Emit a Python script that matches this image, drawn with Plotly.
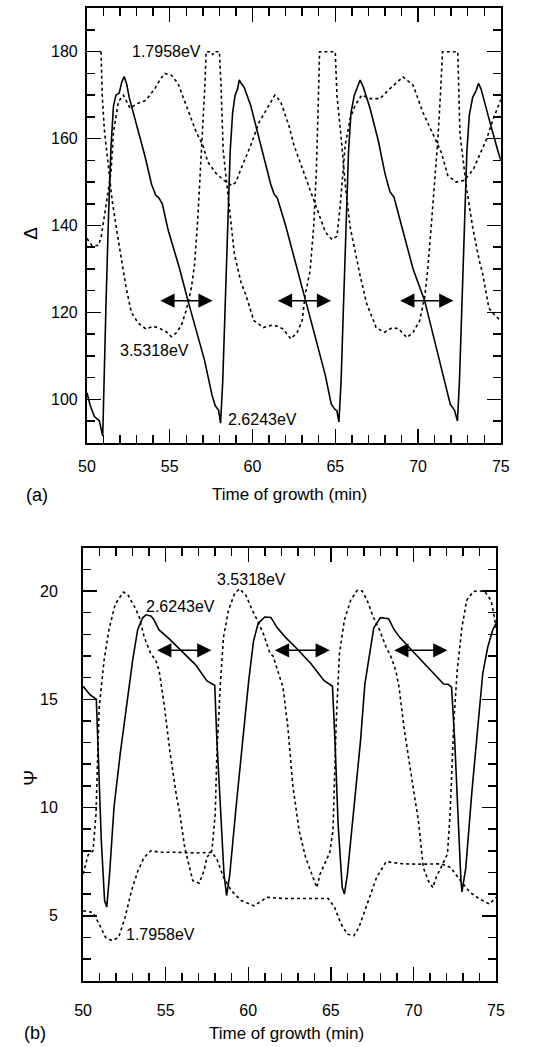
import plotly.graph_objects as go

# ---------------- Data: panel (a) Delta ----------------
t_d_262 = [50.0, 50.2, 50.45, 50.75, 50.95, 51.05, 51.15, 51.3, 51.45, 51.6, 51.75, 51.95, 52.1, 52.25, 52.4, 52.55,
           52.9, 53.5, 53.9, 54.15, 54.35, 54.55, 54.9, 55.6, 56.1, 56.6, 57.1, 57.55, 57.75, 57.95, 58.07, 58.2,
           58.35, 58.5, 58.65, 58.8, 58.95, 59.1, 59.2, 59.35, 59.5, 59.9, 60.3, 60.8, 61.1, 61.3, 61.5, 62.0, 62.5,
           63.2, 63.85, 64.4, 64.75, 64.95, 65.1, 65.22, 65.35, 65.5, 65.65, 65.8, 65.95, 66.15, 66.3, 66.5, 66.7,
           67.1, 67.6, 68.0, 68.3, 68.55, 69.0, 69.7, 70.4, 71.0, 71.6, 71.95, 72.2, 72.38, 72.5, 72.65, 72.8, 72.95,
           73.1, 73.3, 73.5, 73.65, 73.8, 74.0, 74.4, 74.8, 75.0]
d_262 = [101.5, 98.5, 96.0, 95.0, 91.5, 104, 122, 142, 158, 167.5, 170, 170.5, 173, 174.3, 172.5, 169.5,
         164.5, 156, 149.5, 147, 146.3, 145, 139, 130, 122.7, 116, 109, 101, 98.5, 97.5, 94.5, 104,
         122, 142, 157, 166, 170, 171.5, 173.5, 172.5, 171.8, 167.5, 161.5, 154.5, 149.5, 147.3, 146.3, 140, 133,
         122.7, 113.5, 105.5, 99.0, 97.8, 97.3, 94.8, 104, 122, 142, 157, 166, 170, 171.5, 173.5, 171.8,
         167, 159.5, 152, 147.8, 146.5, 140, 130, 122.7, 113.5, 104, 98.8, 97.5, 95, 104, 122, 142, 157,
         165.5, 169.5, 171, 172.7, 171.5, 168.5, 163, 157.5, 155]

t_d_179 = [50.0, 50.3, 50.7, 50.87, 51.15, 51.45, 51.6, 51.9, 52.2, 52.6, 53.0, 53.55, 54.1, 54.4, 54.7, 55.1,
           55.5, 56.05, 56.6, 57.0, 57.3, 57.8, 58.27, 58.75, 59.0, 59.3, 59.9, 60.4, 60.9, 61.35, 61.7, 62.2,
           62.5, 63.25, 63.85, 64.4, 64.8, 65.1, 65.3, 65.6, 65.9, 66.2, 66.6, 67.1, 67.7, 68.3, 69.1, 69.7,
           70.3, 70.85, 71.4, 71.8, 72.3, 72.8, 73.35, 73.75, 74.15, 74.55, 74.87, 75.0]
d_179 = [137, 135.4, 135.4, 137.7, 144.6, 152.3, 161.5, 168.5, 170, 167, 168, 168.8, 171.5, 173.5, 175, 174.6,
         172.7, 167, 161.5, 158.5, 154.6, 152, 150.4, 149.2, 150, 153, 158.5, 163.8, 167, 170, 168.5, 163,
         158.5, 150.8, 144.6, 138.5, 136.8, 137.5, 144.6, 158.5, 164.6, 167.7, 170, 169.2, 169.2, 171.5, 174.2, 172.3,
         166, 161.5, 156.9, 151.5, 150, 150.4, 153, 156.5, 160, 164.6, 168, 169]

t_d_353 = [50.85, 50.92, 51.05, 51.23, 51.52, 51.8, 52.1, 52.35, 52.68, 53.1, 53.56, 54.0, 54.4, 54.8, 55.1, 55.4,
           55.7, 56.0, 56.3, 56.5, 56.7, 56.85, 57.0, 57.12, 57.2, 57.5, 57.6, 57.7, 58.0, 58.1, 58.23, 58.52,
           58.72, 58.9, 59.3, 59.6, 60.08, 60.66, 61.1, 61.44, 61.83, 62.32, 62.7, 63.0, 63.19, 63.48, 63.7, 63.85,
           63.95, 64.05, 65.0, 65.1, 65.33, 65.62, 65.9, 66.3, 66.5, 66.9, 67.47, 67.96, 68.45, 68.83, 69.32, 69.7,
           70.1, 70.4, 70.58, 70.8, 71.0, 71.2, 71.35, 71.48, 72.4, 72.48, 72.53, 72.92, 73.3, 73.7, 73.9, 74.28,
           74.6, 75.0]
d_353 = [180, 170, 162, 155.8, 145.8, 138.8, 131.5, 126, 120, 117.5, 116.2, 116.8, 116.3, 115.5, 114.4, 115.3,
         117, 120.5, 125.5, 131, 142, 152, 163, 172, 180, 180, 179.3, 180, 180, 172, 157.3, 146.5,
         139.6, 133.5, 127, 124, 118.1, 116.5, 117, 116.9, 116.2, 113.9, 115.4, 118.1, 124.2, 129.6, 140, 152,
         165, 180, 180, 170, 161.2, 148.8, 139.6, 131.9, 128.5, 122, 116.5, 115.4, 116.5, 116.2, 114.2, 115.4,
         118.1, 123.5, 129.6, 140, 150, 160, 170, 180, 180, 170, 161.2, 148.8, 139.6, 131.9, 129, 121,
         119.5, 118]

# ---------------- Data: panel (b) Psi ----------------
t_p_262 = [50.0, 50.43, 50.8, 50.9, 51.1, 51.3, 51.43, 51.6, 51.87, 52.25, 52.6, 53.0, 53.3, 53.6, 53.8, 54.1,
           54.27, 54.6, 55.2, 56.0, 56.8, 57.5, 57.8, 57.97, 58.1, 58.3, 58.53, 58.69, 58.88, 59.26, 59.65, 60.03,
           60.32, 60.6, 61.0, 61.37, 61.76, 62.24, 62.86, 63.8, 64.58, 64.96, 65.1, 65.25, 65.44, 65.69, 65.82, 66.0,
           66.4, 66.8, 67.06, 67.35, 67.6, 68.0, 68.5, 68.8, 69.16, 70.1, 71.07, 71.83, 72.1, 72.31, 72.5, 72.7,
           72.88, 72.94, 73.17, 73.55, 73.93, 74.2, 74.5, 74.8, 75.0]
p_262 = [15.6, 15.2, 15.0, 13.1, 8.5, 5.7, 5.4, 6.9, 10.0, 12.5, 14.6, 16.8, 18.2, 18.75, 18.9, 18.85,
         18.7, 18.2, 17.8, 17.2, 16.6, 15.85, 15.7, 15.65, 13.1, 10.0, 6.93, 5.93, 6.9, 10.0, 13.1, 15.87,
         17.7, 18.5, 18.8, 18.78, 18.3, 17.87, 17.4, 16.64, 15.87, 15.7, 15.6, 13.1, 9.25, 6.3, 6.0, 6.9,
         10.0, 13.1, 15.7, 17.1, 18.3, 18.77, 18.72, 18.26, 17.87, 17.1, 16.33, 15.7, 15.69, 15.56, 13.1, 9.25,
         6.6, 6.1, 7.2, 10.8, 13.9, 16.2, 17.4, 18.2, 18.5]

t_p_353 = [50.0, 50.3, 50.6, 50.78, 50.97, 51.27, 51.56, 51.95, 52.44, 52.73, 53.12, 53.4, 53.7, 54.1, 54.4, 54.6,
           54.9, 55.27, 55.66, 55.86, 56.15, 56.44, 56.64, 57.03, 57.32, 57.5, 57.8, 58.0, 58.1, 58.3, 58.5, 58.8,
           59.17, 59.47, 59.86, 60.25, 60.55, 60.93, 61.32, 61.5, 62.1, 62.4, 62.7, 63.08, 63.47, 63.77, 64.06, 64.15,
           64.35, 64.65, 64.94, 65.13, 65.33, 65.52, 65.82, 66.2, 66.6, 66.9, 67.2, 67.57, 67.96, 68.35, 68.65, 68.94,
           69.13, 69.43, 69.72, 69.92, 70.3, 70.6, 70.9, 71.18, 71.38, 71.68, 72.06, 72.22, 72.45, 72.65, 72.94, 73.23,
           73.63, 74.3, 74.7, 74.9, 75.0]
p_353 = [6.93, 7.8, 8.0, 9.7, 14.6, 16.8, 18.2, 19.4, 19.95, 19.8, 19.26, 18.8, 17.87, 17.1, 16.8, 16.33,
         14.8, 12.5, 10.5, 9.7, 8.16, 7.23, 6.62, 6.5, 7.08, 7.7, 8.0, 9.7, 12.5, 15.56, 17.87, 19.1,
         19.88, 20.1, 19.8, 19.1, 18.65, 18.0, 17.1, 17.0, 15.56, 13.7, 11.0, 8.93, 7.7, 7.08, 6.47, 6.3,
         6.93, 7.4, 7.93, 8.93, 14.0, 17.1, 18.65, 19.57, 20.03, 20.0, 19.57, 18.8, 18.18, 17.4, 16.95, 16.3,
         15.56, 13.7, 12.17, 11.24, 9.4, 7.23, 6.62, 6.3, 6.77, 7.23, 7.85, 9.7, 14.0, 16.3, 18.33, 19.57,
         19.98, 20.0, 19.57, 18.8, 18.3]

t_p_179 = [50.0, 50.6, 50.97, 51.36, 51.76, 52.15, 52.54, 52.93, 53.32, 53.7, 54.1, 54.69, 55.66, 56.83, 57.8, 58.1,
           58.5, 58.98, 59.57, 60.35, 60.84, 61.13, 62.1, 63.47, 64.84, 65.23, 65.62, 66.0, 66.4, 66.7, 67.18, 67.77,
           68.35, 69.33, 70.5, 71.68, 72.26, 72.85, 73.43, 74.02, 74.6, 75.0]
p_179 = [5.23, 5.15, 4.62, 4.0, 3.85, 4.0, 4.92, 6.16, 7.08, 7.7, 8.0, 7.93, 7.93, 7.9, 7.93, 7.62,
         6.77, 6.16, 5.7, 5.46, 5.7, 5.85, 5.8, 5.8, 5.8, 5.38, 4.62, 4.15, 4.08, 4.46, 5.54, 6.77,
         7.5, 7.4, 7.38, 7.4, 7.23, 6.62, 6.08, 5.77, 5.54, 5.85]

# double-headed arrows (period markers)
arrow_a_start = [54.34, 61.44, 68.83]
arrow_a_end = [57.59, 64.75, 72.14]
arrow_a_level = 122.7
arrow_b_start = [54.39, 61.52, 68.75]
arrow_b_end = [57.77, 64.94, 72.06]
arrow_b_level = 17.26

# curve labels: (text, t, value)
labels_a = [("1.7958eV", 54.78, 180.0), ("3.5318eV", 54.1, 111.2), ("2.6243eV", 60.6, 95.4)]
labels_b = [("3.5318eV", 60.2, 20.55), ("2.6243eV", 55.9, 19.3), ("1.7958eV", 54.69, 4.12)]

FONT = "Liberation Sans, Arial, Helvetica, sans-serif"
W, H = 533, 1047  # page body margin is removed by the post script, so figure == window


def px(x):
    return x / W


def py(y):
    return 1 - y / H


fig = go.Figure()

solid = dict(color="black", width=1.6)
dotted = dict(color="black", width=1.6, dash="3px,3px")

fig.add_trace(go.Scatter(x=t_d_262, y=d_262, mode="lines", line=solid, xaxis="x", yaxis="y"))
fig.add_trace(go.Scatter(x=t_d_179, y=d_179, mode="lines", line=dotted, xaxis="x", yaxis="y"))
fig.add_trace(go.Scatter(x=t_d_353, y=d_353, mode="lines", line=dotted, xaxis="x", yaxis="y"))
fig.add_trace(go.Scatter(x=t_p_262, y=p_262, mode="lines", line=solid, xaxis="x2", yaxis="y2"))
fig.add_trace(go.Scatter(x=t_p_353, y=p_353, mode="lines", line=dotted, xaxis="x2", yaxis="y2"))
fig.add_trace(go.Scatter(x=t_p_179, y=p_179, mode="lines", line=dotted, xaxis="x2", yaxis="y2"))

axis_common = dict(showline=True, linecolor="black", linewidth=2, mirror="ticks", ticks="inside",
                   tickwidth=1.5, ticklen=14, tickcolor="black", showgrid=False, zeroline=False,
                   tickfont=dict(family=FONT, size=16, color="black"))
minor_common = dict(ticklen=8, tickwidth=1.5, ticks="inside", tickcolor="black")

fig.update_layout(
    width=W, height=H,
    margin=dict(l=0, r=0, t=0, b=0),
    paper_bgcolor="white", plot_bgcolor="white",
    showlegend=False, hovermode=False,
    font=dict(family=FONT, color="black"),
    xaxis=dict(domain=[px(80.7), px(509)], range=[50, 75], anchor="y", dtick=5, tick0=50,
               minor=dict(dtick=1, **minor_common), ticklabelstandoff=8, **axis_common),
    yaxis=dict(domain=[py(442.7), py(8.3)], range=[90, 190], anchor="x",
               tickvals=[100, 120, 140, 160, 180],
               minor=dict(dtick=5, **minor_common), ticklabelstandoff=4, **axis_common),
    xaxis2=dict(domain=[px(76.7), px(504)], range=[50, 75], anchor="y2", dtick=5, tick0=50,
                minor=dict(dtick=1, **minor_common), ticklabelstandoff=14, **axis_common),
    yaxis2=dict(domain=[py(980.7), py(547.7)], range=[2, 22], anchor="x2",
                tickvals=[5, 10, 15, 20],
                minor=dict(dtick=1, **minor_common), ticklabelstandoff=20, **axis_common),
)

ann = []
for s, e in zip(arrow_a_start, arrow_a_end):
    ann.append(dict(x=e, y=arrow_a_level, ax=s, ay=arrow_a_level, xref="x", yref="y", axref="x", ayref="y",
                    showarrow=True, arrowhead=2, startarrowhead=2, arrowside="end+start", arrowsize=1.9,
                    startarrowsize=1.9, arrowwidth=1.5, arrowcolor="black", text=""))
for s, e in zip(arrow_b_start, arrow_b_end):
    ann.append(dict(x=e, y=arrow_b_level, ax=s, ay=arrow_b_level, xref="x2", yref="y2", axref="x2", ayref="y2",
                    showarrow=True, arrowhead=2, startarrowhead=2, arrowside="end+start", arrowsize=1.9,
                    startarrowsize=1.9, arrowwidth=1.5, arrowcolor="black", text=""))
for txt, tx, v in labels_a:
    ann.append(dict(x=tx, y=v, xref="x", yref="y", text=txt, showarrow=False, xanchor="center", yanchor="middle",
                    font=dict(family=FONT, size=16, color="black")))
for txt, tx, v in labels_b:
    ann.append(dict(x=tx, y=v, xref="x2", yref="y2", text=txt, showarrow=False, xanchor="center", yanchor="middle",
                    font=dict(family=FONT, size=16, color="black")))

# axis titles and panel tags
ann += [
    dict(x=px(290.8), y=py(495), xref="paper", yref="paper", text="Time of growth (min)", showarrow=False,
         xanchor="center", yanchor="middle", font=dict(family=FONT, size=17, color="black")),
    dict(x=px(287.5), y=py(1033), xref="paper", yref="paper", text="Time of growth (min)", showarrow=False,
         xanchor="center", yanchor="middle", font=dict(family=FONT, size=17, color="black")),
    dict(x=px(29), y=py(495), xref="paper", yref="paper", text="(a)", showarrow=False,
         xanchor="center", yanchor="middle", font=dict(family=FONT, size=18, color="black")),
    dict(x=px(27), y=py(1033), xref="paper", yref="paper", text="(b)", showarrow=False,
         xanchor="center", yanchor="middle", font=dict(family=FONT, size=18, color="black")),
    dict(x=px(22.5), y=py(233), xref="paper", yref="paper", text="Δ", showarrow=False, textangle=-90,
         xanchor="center", yanchor="middle", font=dict(family=FONT, size=19, color="black")),
    dict(x=px(21.5), y=py(778), xref="paper", yref="paper", text="Ψ", showarrow=False, textangle=-90,
         xanchor="center", yanchor="middle", font=dict(family=FONT, size=19, color="black")),
]
fig.update_layout(annotations=ann)

fig.write_html("out.html", config={"displayModeBar": False, "staticPlot": True},
               post_script="document.body.style.margin='0px';")
